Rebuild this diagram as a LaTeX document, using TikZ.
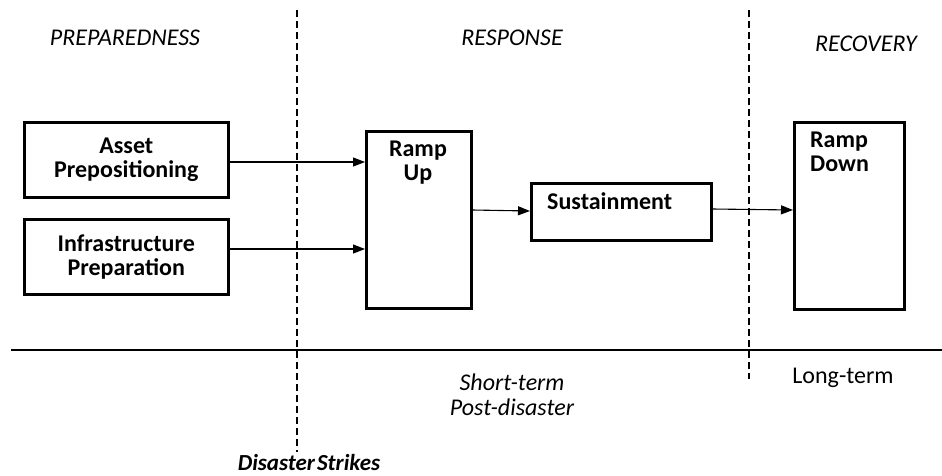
\documentclass[tikz,border=0pt]{standalone}
\usepackage{fontspec}
\setmainfont{Carlito}
\usetikzlibrary{arrows.meta}
\begin{document}
\begin{tikzpicture}[x=1pt,y=-1pt,
  box/.style={draw=black,line width=2.6pt,inner sep=0pt,anchor=north west},
  lbl/.style={font=\fontsize{24}{24}\selectfont\bfseries,align=center,inner sep=0pt},
  phase/.style={font=\fontsize{24}{25}\selectfont\itshape,inner sep=0pt},
  conn/.style={line width=1.1pt,-{Triangle[length=12pt,width=9pt]}},
  divider/.style={line width=1.1pt,dash pattern=on 7pt off 4pt}]
\useasboundingbox (0,0) rectangle (942,475);
% phase labels
\node[phase] (prep) at (125,38) {PREPAREDNESS};
\node[phase] (resp) at (512,38) {RESPONSE};
\node[phase] (reco) at (866,44) {RECOVERY};
% boxes
\node[box,minimum width=204pt,minimum height=75pt] (asset) at (23,121) {};
\node[box,minimum width=204pt,minimum height=75pt] (infra) at (23,218) {};
\node[box,minimum width=105pt,minimum height=177pt] (rampup) at (365,130) {};
\node[box,minimum width=180pt,minimum height=57pt] (sust) at (530,182) {};
\node[box,minimum width=110pt,minimum height=187pt] (rampdown) at (793,121) {};
% box texts
\node[lbl] (assett) at (asset.center) {Asset\\Prepositioning};
\node[lbl] (infrat) at (infra.center) {Infrastructure\\Preparation};
\node[lbl,anchor=north] (rampupt) at (418,141) {Ramp\\Up};
\node[lbl,anchor=west] (sustt) at (547,201) {Sustainment};
\node[lbl,anchor=north west,align=left] (rampdownt) at (810,132) {Ramp\\Down};
% dividers
\coordinate (d1t) at (297,10);
\coordinate (d1b) at (297,452);
\coordinate (d2t) at (749,10);
\coordinate (d2b) at (749,379);
\draw[divider] (d1t) -- (d1b);
\draw[divider] (d2t) -- (d2b);
\coordinate (hl) at (11,350);
\coordinate (hr) at (942,350);
\draw[line width=1.3pt] (hl) -- (hr);
% connectors
\draw[conn] (asset.east |- 0,162) -- (rampup.west |- 0,162);
\draw[conn] (infra.east |- 0,249) -- (rampup.west |- 0,249);
\draw[conn] (rampup.east |- 0,210) -- (sust.west |- 0,211);
\draw[conn] (sust.east |- 0,209) -- (rampdown.west |- 0,210);
% bottom texts
\node[phase,align=center] (short) at (512,395) {Short-term\\Post-disaster};
\node[font=\fontsize{24}{25}\selectfont,inner sep=0pt] (long) at (843,378) {Long-term};
\node[font=\fontsize{23}{25}\selectfont\bfseries\itshape,inner sep=0pt,anchor=base] (strike) at (309,470) {Disaster\hspace{2pt}Strikes};
\end{tikzpicture}
\end{document}
